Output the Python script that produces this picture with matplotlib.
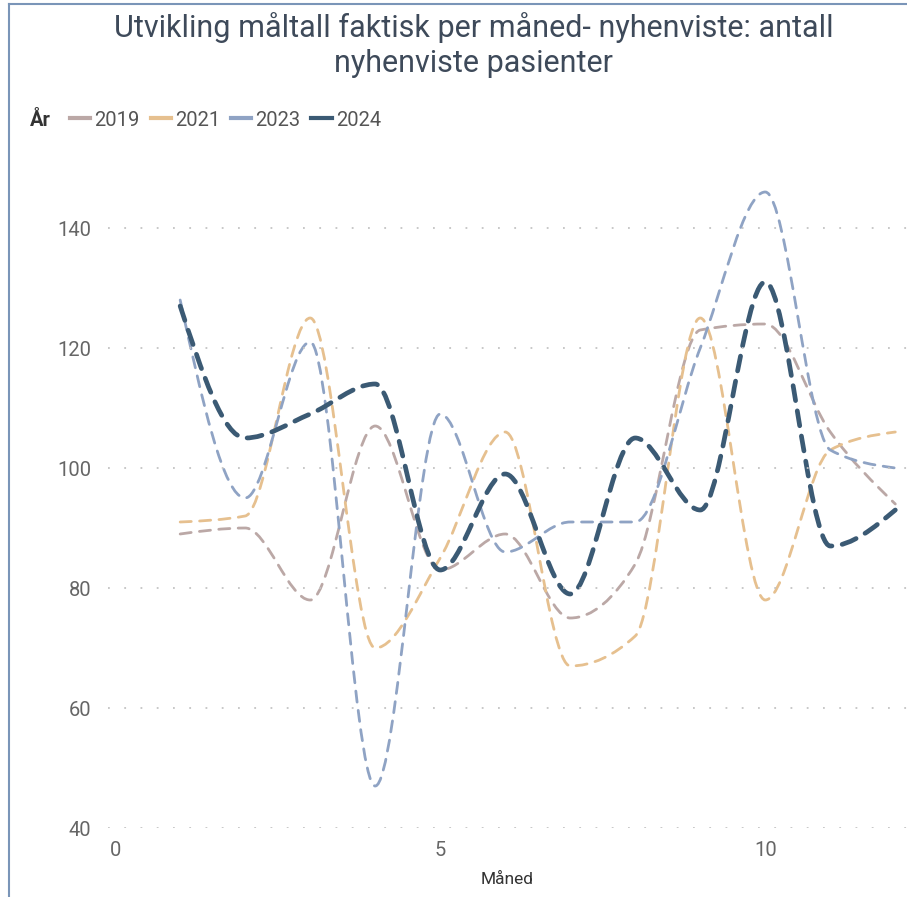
import numpy as np
import matplotlib
matplotlib.use("Agg")
import matplotlib.pyplot as plt
from matplotlib.path import Path
from matplotlib.patches import PathPatch
from matplotlib.lines import Line2D

plt.rcParams['font.family'] = ['Roboto', 'DejaVu Sans']

# data
months = [1, 2, 3, 4, 5, 6, 7, 8, 9, 10, 11, 12]
y2019 = [89, 90, 78, 107, 83, 89, 75, 84, 123, 124, 106, 94]
y2021 = [91, 92, 125, 70, 85, 106, 67, 72, 125, 78, 103, 106]
y2023 = [128, 95, 121, 47, 109, 86, 91, 91, 120, 146, 103, 100]
y2024 = [127, 105, 109, 114, 83, 99, 79, 105, 93, 131, 87, 93]
years = ['2019', '2021', '2023', '2024']
series = [y2019, y2021, y2023, y2024]

colors = ['#BBA8A6', '#E6C08F', '#8FA3C4', '#3B5A74']
widths = [2.0, 2.0, 2.0, 3.4]
dashes = [(0, (4, 3)), (0, (4, 3)), (0, (4, 3)), (0, (3.2, 2.2))]


def monotone_path(x, y):
    # smooth line like power bi (monotone cubic), as bezier segments
    x = np.asarray(x, float)
    y = np.asarray(y, float)
    h = np.diff(x)
    s = np.diff(y) / h
    m = np.zeros_like(y)
    for i in range(1, len(y) - 1):
        p = (s[i-1] * h[i] + s[i] * h[i-1]) / (h[i-1] + h[i])
        m[i] = (np.sign(s[i-1]) + np.sign(s[i])) * min(abs(s[i-1]), abs(s[i]), 0.5 * abs(p))
    m[0] = (3 * s[0] - m[1]) / 2
    m[-1] = (3 * s[-1] - m[-2]) / 2
    verts = [(x[0], y[0])]
    codes = [Path.MOVETO]
    for i in range(len(x) - 1):
        d = h[i] / 3
        verts += [(x[i] + d, y[i] + m[i] * d), (x[i+1] - d, y[i+1] - m[i+1] * d), (x[i+1], y[i+1])]
        codes += [Path.CURVE4] * 3
    return Path(verts, codes)


fig = plt.figure(figsize=(9.07, 8.97), dpi=100)
ax = fig.add_axes([108 / 907, 1 - 828 / 897, (907 - 108) / 907, (828 - 138) / 897])

for ys, c, lw, ls in zip(series, colors, widths, dashes):
    patch = PathPatch(monotone_path(months, ys), facecolor='none', edgecolor=c,
                      linewidth=lw, linestyle=ls, capstyle='round', joinstyle='round')
    ax.add_patch(patch)

ax.set_xlim(-0.11, 12.18)
ax.set_ylim(40, 155)
ax.set_xticks([0, 5, 10])
ax.set_yticks([40, 60, 80, 100, 120, 140])
ax.grid(axis='y', color='#C4C4C4', linestyle=(0, (1, 8)), linewidth=1.3)
ax.grid(axis='x', visible=False)
for sp in ax.spines.values():
    sp.set_visible(False)
ax.tick_params(length=0, labelsize=14.5, colors='#666666')
ax.tick_params(axis='x', pad=9)
ax.tick_params(axis='y', pad=12)
ax.set_xlabel('Måned', fontsize=12.5, color='#333333', labelpad=9)

fig.text(0.522, 1 - 45 / 897, 'Utvikling måltall faktisk per måned- nyhenviste: antall\nnyhenviste pasienter',
         ha='center', va='center', fontsize=22, color='#3E4A5A', linespacing=1.3)

# legend
fig.text(30 / 907, 1 - 120 / 897, 'År', fontsize=14.5, fontweight='bold', color='#333333', va='center')
handles = [Line2D([], [], color=c, lw=3) for c in colors]
fig.legend(handles, years, loc='center left', bbox_to_anchor=(70 / 907, 1 - 120 / 897), ncol=4,
           frameon=False, fontsize=14.5, handlelength=1.0, handletextpad=0.2, columnspacing=0.55,
           labelcolor='#555555', borderaxespad=0, borderpad=0)

# visual border
fig.add_artist(Line2D([9 / 907, 9 / 907], [0, 1 - 4 / 897], color='#7A95B8', lw=1.5))
fig.add_artist(Line2D([9 / 907, 1], [1 - 4 / 897, 1 - 4 / 897], color='#7A95B8', lw=1.5))

fig.savefig('out.png', dpi=100, facecolor='white')
